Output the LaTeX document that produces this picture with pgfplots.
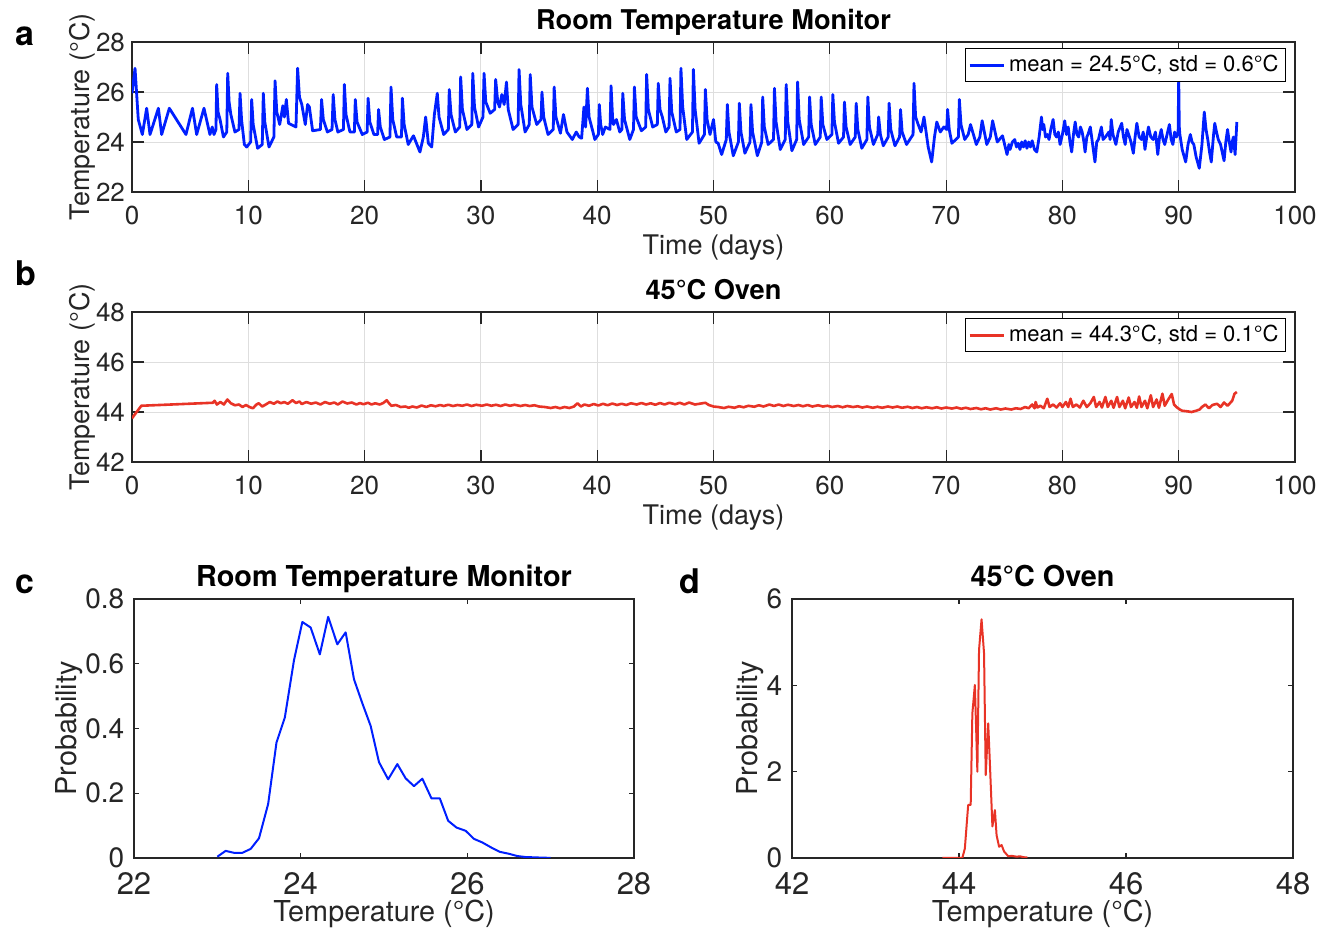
\documentclass[border=0pt]{standalone}
\usepackage{fontspec}
\setmainfont{TeX Gyre Heros}
\usepackage{pgfplots}
\usepackage{pgfplotstable}
\pgfplotsset{compat=1.18}
\definecolor{lineblue}{rgb}{0.0,0.12,1.0}
\definecolor{linered}{rgb}{0.91,0.2,0.15}
\definecolor{axgray}{rgb}{0.15,0.15,0.15}

\pgfplotstableread{
d T
0 25.95
0.26 26.95
0.54 24.9
0.89 24.3
1.26 25.35
1.55 24.3
2.27 25.35
2.55 24.3
3.21 25.35
4.64 24.3
5.2 25.35
5.56 24.3
6.19 25.35
6.7 24.3
6.9 24.6
7.05 24.3
7.22 24.5
7.28 26.3
7.4 25.2
7.57 24.9
7.86 24.2
8.15 24.4
8.23 26.75
8.35 25.6
8.5 25.1
8.85 24.4
9.2 24.5
9.29 25.95
9.42 24.9
9.66 23.9
9.86 23.8
10.2 24.0
10.29 25.7
10.42 24.7
10.8 23.75
11.2 23.9
11.29 25.95
11.42 24.8
11.78 23.8
12.2 24.2
12.3 26.45
12.45 25.2
12.7 24.7
12.97 25.45
13.1 25.0
13.27 25.7
13.46 24.75
14.1 24.6
14.24 26.95
14.4 25.8
14.6 25.5
14.9 24.7
15.1 25.5
15.25 25.4
15.53 24.45
16.2 24.5
16.3 25.7
16.45 24.9
16.8 24.4
17.2 24.5
17.3 25.9
17.45 24.9
17.7 24.4
18.18 24.5
18.26 26.3
18.4 25.1
18.74 24.4
19.12 24.4
19.2 25.7
19.35 24.8
19.8 24.3
20.22 24.4
20.3 25.75
20.45 24.8
20.8 24.3
21.12 24.3
21.2 25.3
21.35 24.6
21.7 24.1
22.18 24.2
22.27 26.2
22.42 24.9
22.76 24.2
23.17 24.2
23.25 25.75
23.4 24.7
23.75 23.9
24.2 24.25
24.76 23.6
25.05 24.2
25.25 25.0
25.48 23.95
25.77 23.8
26.0 25.1
26.25 25.95
26.4 25.0
26.8 24.3
27.2 24.5
27.28 26.1
27.43 25.1
27.8 24.4
28.18 24.6
28.26 26.6
28.41 25.3
28.8 24.5
29.22 24.7
29.3 26.75
29.45 25.4
29.8 24.6
30.18 25.0
30.27 26.75
30.42 25.6
30.8 25.15
31.18 25.3
31.27 26.5
31.45 25.6
31.6 25.4
31.8 25.9
32.0 25.5
32.2 26.4
32.35 25.3
32.77 24.5
33.2 24.7
33.28 26.9
33.43 25.5
33.8 24.4
34.16 24.7
34.24 26.7
34.39 25.4
34.8 24.7
35.17 24.9
35.25 26.0
35.4 25.0
35.77 24.3
36.22 24.5
36.3 26.2
36.45 25.0
36.84 24.35
37.1 25.1
37.4 24.4
37.86 24.1
38.2 24.4
38.45 24.2
38.66 24.15
38.86 25.4
39.0 24.6
39.16 26.15
39.3 25.0
39.58 24.5
39.8 24.1
40.1 24.3
40.18 25.5
40.3 24.7
40.47 24.3
40.7 24.6
41.1 24.5
41.19 26.25
41.32 25.0
41.4 24.7
41.65 24.9
41.94 24.4
42.12 24.5
42.2 25.95
42.35 24.9
42.8 24.1
43.12 24.5
43.2 26.2
43.35 25.0
43.8 24.45
44.17 24.6
44.25 26.7
44.4 25.3
44.77 24.6
45.17 24.7
45.25 26.35
45.4 25.3
45.6 25.0
45.9 24.4
46.18 24.6
46.26 26.55
46.41 25.2
46.8 24.4
47.12 24.5
47.2 26.95
47.35 25.4
47.7 24.1
48.19 24.4
48.27 26.9
48.42 25.3
48.76 23.95
49.22 24.3
49.3 26.1
49.45 24.9
49.7 24.3
50.0 24.9
50.2 24.0
50.4 23.95
50.7 23.5
51.1 24.1
51.19 25.5
51.33 24.4
51.7 23.45
52.14 24.0
52.22 25.55
52.36 24.4
52.7 23.55
53.14 24.0
53.22 25.5
53.36 24.4
53.77 23.45
54.15 24.0
54.23 25.8
54.37 24.6
54.7 23.9
55.16 24.1
55.24 26.15
55.38 24.8
55.74 23.7
56.17 24.1
56.25 26.3
56.39 24.8
56.74 23.65
57.15 24.1
57.23 26.4
57.37 24.9
57.75 23.9
58.18 24.2
58.26 25.8
58.4 24.7
58.75 23.9
59.18 24.2
59.26 25.8
59.4 24.7
59.75 24.1
60.18 24.3
60.26 25.9
60.4 24.8
60.75 23.95
61.18 24.2
61.26 25.6
61.4 24.6
61.75 23.9
62.19 24.2
62.27 25.55
62.41 24.5
62.75 23.75
63.19 24.1
63.27 25.8
63.41 24.6
63.75 23.9
64.12 24.3
64.2 25.0
64.35 24.3
64.6 23.85
65.02 24.2
65.1 25.55
65.24 24.5
65.6 23.85
66.0 24.2
66.08 25.3
66.22 24.4
66.6 23.9
67.16 24.3
67.24 26.35
67.38 25.0
67.6 24.7
67.85 24.4
68.1 25.0
68.46 23.8
68.76 23.2
69.0 24.2
69.2 24.8
69.5 24.4
69.8 24.6
70.05 24.5
70.13 25.3
70.27 24.5
70.5 23.95
71.06 24.2
71.14 25.7
71.28 24.7
71.6 24.1
71.9 24.3
72.1 24.7
72.6 23.9
72.9 24.2
73.1 24.85
73.5 23.9
73.8 24.2
74.0 24.85
74.4 24.0
74.85 24.25
75.24 23.5
75.4 23.9
75.5 23.7
75.7 24.0
75.9 24.1
76.05 23.8
76.2 23.95
76.35 23.7
76.5 24.0
76.65 23.8
76.8 24.05
76.95 23.75
77.1 24.0
77.25 23.8
77.4 24.05
77.6 23.7
77.8 23.6
78.0 24.2
78.2 25.0
78.3 24.5
78.4 24.7
78.55 24.2
78.7 24.3
78.85 24.1
79.0 24.5
79.2 24.9
79.35 24.3
79.5 24.2
79.65 24.4
79.8 23.9
80.0 24.3
80.2 24.85
80.35 24.3
80.5 24.6
80.65 24.0
80.8 23.6
80.95 24.3
81.1 24.8
81.25 24.3
81.4 24.2
81.55 24.6
81.7 24.4
81.85 24.0
81.95 23.6
82.1 24.2
82.2 24.3
82.4 24.6
82.6 23.9
82.8 23.2
82.95 24.0
83.1 24.1
83.35 24.6
83.5 24.1
83.7 24.2
84.0 24.4
84.1 24.1
84.2 24.9
84.35 24.3
84.6 23.9
84.8 24.4
85.1 24.75
85.25 24.2
85.4 23.9
85.55 24.5
85.7 24.3
85.9 24.0
86.1 23.55
86.25 24.2
86.4 24.75
86.6 24.2
86.8 24.1
86.95 24.4
87.1 23.7
87.25 24.2
87.4 24.6
87.6 24.2
87.8 24.1
88.0 24.4
88.2 23.5
88.35 24.2
88.5 24.5
88.65 24.1
88.8 23.9
89.0 24.3
89.2 24.7
89.35 24.1
89.5 23.9
89.65 24.4
89.8 24.2
89.95 24.4
90.0 26.6
90.05 24.6
90.1 24.3
90.3 23.7
90.6 23.2
90.8 23.9
91.0 24.3
91.15 24.0
91.3 23.9
91.5 23.4
91.77 22.95
92.0 23.9
92.2 25.2
92.35 24.5
92.5 24.1
92.65 23.6
92.8 23.2
93.0 24.3
93.1 24.75
93.25 24.4
93.4 24.1
93.6 23.9
93.9 23.25
94.05 24.0
94.2 24.5
94.35 24.0
94.5 23.6
94.6 24.0
94.7 24.2
94.85 23.5
95.0 24.8
}\roomdata

\pgfplotstableread{
d T
0 43.75
0.8 44.25
6.95 44.37
7.1 44.45
7.3 44.3
7.6 44.4
7.9 44.3
8.2 44.5
8.5 44.35
8.85 44.27
9.2 44.3
9.5 44.2
9.8 44.28
10.1 44.2
10.4 44.15
10.7 44.3
10.9 44.35
11.2 44.22
11.5 44.3
11.85 44.4
12.2 44.33
12.5 44.42
12.8 44.35
13.1 44.4
13.4 44.33
13.8 44.47
14.1 44.36
14.4 44.42
14.6 44.32
15.0 44.4
15.4 44.33
15.8 44.38
16.2 44.3
16.6 44.4
17.0 44.33
17.4 44.38
17.7 44.3
18.1 44.42
18.5 44.34
18.9 44.38
19.3 44.3
19.6 44.36
19.9 44.31
20.3 44.37
20.6 44.3
20.9 44.35
21.3 44.3
21.6 44.36
21.9 44.47
22.1 44.35
22.3 44.25
22.7 44.28
23.1 44.2
23.5 44.22
23.8 44.17
24.1 44.22
24.5 44.18
24.9 44.26
25.3 44.2
25.7 44.27
26.1 44.23
26.5 44.28
26.8 44.24
27.2 44.29
27.6 44.24
28.0 44.28
28.4 44.25
28.8 44.3
29.2 44.24
29.6 44.29
30.1 44.25
30.5 44.3
30.9 44.25
31.3 44.29
31.7 44.24
32.1 44.3
32.5 44.25
32.9 44.29
33.4 44.24
33.8 44.28
34.2 44.24
34.6 44.27
35.0 44.22
35.5 44.2
36.0 44.16
36.4 44.2
36.8 44.15
37.2 44.2
37.6 44.16
38.0 44.22
38.3 44.35
38.6 44.22
38.9 44.3
39.3 44.25
39.7 44.32
40.1 44.26
40.5 44.33
40.9 44.27
41.3 44.34
41.7 44.28
42.1 44.33
42.5 44.28
42.9 44.35
43.4 44.3
43.8 44.36
44.2 44.3
44.6 44.35
45.0 44.29
45.4 44.36
45.8 44.3
46.2 44.37
46.7 44.31
47.1 44.37
47.5 44.3
47.9 44.38
48.4 44.3
48.8 44.33
49.3 44.37
49.6 44.28
50.0 44.22
50.4 44.2
50.9 44.16
51.3 44.21
51.8 44.17
52.2 44.23
52.6 44.19
53.0 44.25
53.5 44.21
53.9 44.27
54.3 44.22
54.8 44.3
55.2 44.24
55.6 44.3
56.0 44.24
56.4 44.29
56.9 44.24
57.3 44.28
57.7 44.23
58.1 44.28
58.5 44.22
59.0 44.27
59.4 44.22
59.8 44.25
60.2 44.2
60.7 44.24
61.1 44.19
61.5 44.24
62.0 44.2
62.4 44.23
62.8 44.18
63.2 44.22
63.7 44.17
64.1 44.21
64.5 44.17
65.0 44.22
65.4 44.18
65.8 44.22
66.2 44.17
66.7 44.21
67.1 44.16
67.5 44.2
67.9 44.15
68.3 44.19
68.8 44.15
69.2 44.19
69.6 44.14
70.0 44.18
70.5 44.14
70.9 44.18
71.3 44.13
71.7 44.17
72.1 44.12
72.6 44.16
73.0 44.11
73.4 44.15
73.8 44.1
74.3 44.15
74.7 44.1
75.1 44.14
75.6 44.1
76.0 44.15
76.4 44.12
76.8 44.2
77.1 44.15
77.4 44.3
77.6 44.15
77.7 44.4
77.85 44.18
78.1 44.25
78.4 44.15
78.7 44.53
78.9 44.2
79.2 44.3
79.5 44.18
79.8 44.35
80.0 44.2
80.3 44.4
80.5 44.2
80.7 44.53
80.9 44.2
81.2 44.3
81.5 44.18
81.8 44.45
82.1 44.2
82.4 44.35
82.7 44.6
82.9 44.2
83.2 44.4
83.4 44.18
83.7 44.6
83.9 44.2
84.2 44.45
84.4 44.17
84.7 44.6
84.9 44.2
85.2 44.45
85.4 44.15
85.7 44.58
85.9 44.2
86.2 44.4
86.4 44.17
86.6 44.62
86.8 44.2
87.1 44.45
87.3 44.15
87.6 44.67
87.8 44.2
88.1 44.5
88.3 44.17
88.6 44.73
88.8 44.25
89.1 44.5
89.4 44.72
89.6 44.3
89.8 44.2
90.1 44.1
90.3 44.05
90.7 44.03
91.1 44.0
91.5 44.05
91.8 44.1
92.0 44.2
92.3 44.3
92.6 44.15
92.9 44.28
93.3 44.33
93.6 44.2
93.9 44.38
94.2 44.25
94.4 44.35
94.6 44.45
94.8 44.73
95.0 44.8
}\ovendata

\pgfplotstableread{
T p
23.0 0.004
23.1 0.022
23.2 0.016
23.3 0.016
23.4 0.028
23.5 0.061
23.61 0.167
23.71 0.357
23.81 0.434
23.92 0.611
24.02 0.729
24.12 0.712
24.23 0.629
24.33 0.745
24.44 0.660
24.54 0.697
24.64 0.552
24.74 0.478
24.84 0.408
24.94 0.296
25.05 0.243
25.16 0.290
25.26 0.246
25.36 0.222
25.46 0.245
25.57 0.184
25.67 0.184
25.77 0.115
25.87 0.094
25.98 0.084
26.08 0.059
26.18 0.048
26.29 0.032
26.39 0.019
26.50 0.013
26.60 0.006
26.70 0.003
26.81 0.002
26.91 0.001
27.0 0.0005
}\roomhist

\pgfplotstableread{
T p
43.80 0
44.04 0
44.07 0.22
44.11 1.23
44.14 1.23
44.16 3.35
44.19 4.01
44.22 2.0
44.24 4.82
44.27 5.53
44.30 4.74
44.32 1.92
44.35 3.12
44.37 2.19
44.40 0.73
44.43 1.11
44.45 0.53
44.48 0.26
44.51 0.30
44.54 0.15
44.59 0.04
44.63 0.05
44.69 0.03
44.73 0.04
44.77 0.02
44.82 0.01
}\ovenhist

\pgfplotsset{
  mat/.style={
    scale only axis,
    axis line style={axgray, line width=0.6pt},
    every tick/.style={axgray, line width=0.6pt},
    tick align=inside,
    xtick pos=both, ytick pos=both,
    /pgf/number format/assume math mode=true,
    tick label style={text=axgray},
    label style={text=axgray},
    every axis title shift=0pt,
    title style={at={(0.5,1)}, anchor=base, yshift=6.3pt},
  },
  timeax/.style={
    mat,
    width=581.5pt, height=75pt,
    xmin=0, xmax=100,
    xtick={0,10,20,30,40,50,60,70,80,90,100},
    xticklabels={0,10,20,30,40,50,60,70,80,90,100},
    major tick length=5.8pt,
    grid=major,
    major grid style={line width=0.5pt, color=black!13},
    tick label style={font=\fontsize{13}{15}\selectfont},
    xticklabel style={yshift=-3.5pt},
    label style={font=\fontsize{13.5}{16}\selectfont},
    title style={font=\bfseries\fontsize{13.6}{16}\selectfont},
    xlabel={Time (days)},
    ylabel={Temperature (°C)},
    xlabel style={yshift=2pt},
    ylabel style={yshift=-6.5pt},
    legend style={at={(1,1)}, anchor=north east, xshift=-4.5pt, yshift=-3pt,
      draw=black, line width=0.5pt, fill=white,
      font=\fontsize{11}{13}\selectfont, inner sep=1.5pt,
      nodes={inner sep=2pt}},
    legend cell align=left,
  },
  histax/.style={
    mat,
    width=250pt, height=129.5pt,
    major tick length=2.5pt,
    xticklabel style={font=\fontsize{15.5}{17}\selectfont, inner sep=0.5pt, yshift=-6.5pt},
    yticklabel style={font=\fontsize{14}{16}\selectfont, inner sep=0.5pt, xshift=-4.2pt},
    label style={font=\fontsize{14.4}{17}\selectfont, inner sep=0.5pt},
    xlabel={Temperature (°C)},
    ylabel={Probability},
    xlabel style={at={([yshift=-32pt]axis description cs:0.5,0)}, anchor=base},
    ylabel style={at={([xshift=-28.5pt]axis description cs:0,0.5)}, anchor=base},
    title style={font=\bfseries\fontsize{14.4}{17}\selectfont},
  },
}

\begin{document}
\begin{tikzpicture}
\useasboundingbox (0pt,0pt) rectangle (664.5pt,-466.5pt);

% panel a
\begin{axis}[timeax, at={(66pt,-21pt)}, anchor=north west,
  ymin=22, ymax=28, ytick={22,24,26,28}, yticklabels={22,24,26,28},
  title={Room Temperature Monitor}]
\addplot[lineblue, line width=1.4pt, line join=round] table[x=d, y=T] {\roomdata};
\addlegendentry{mean = 24.5°C, std = 0.6°C}
\end{axis}

% panel b
\begin{axis}[timeax, at={(66pt,-156pt)}, anchor=north west,
  ymin=42, ymax=48, ytick={42,44,46,48}, yticklabels={42,44,46,48},
  title={45°C Oven}]
\addplot[linered, line width=1.3pt, line join=round] table[x=d, y=T] {\ovendata};
\addlegendentry{mean = 44.3°C, std = 0.1°C}
\end{axis}

% panel c
\begin{axis}[histax, at={(67pt,-299.5pt)}, anchor=north west,
  xmin=22, xmax=28, xtick={22,24,26,28}, xticklabels={22,24,26,28},
  ymin=0, ymax=0.8, ytick={0,0.2,0.4,0.6,0.8}, yticklabels={0,0.2,0.4,0.6,0.8},
  title={Room Temperature Monitor}]
\addplot[lineblue, line width=1pt, line join=round] table[x=T, y=p] {\roomhist};
\end{axis}

% panel d
\begin{axis}[histax, at={(396pt,-299.5pt)}, anchor=north west, width=250.5pt,
  xmin=42, xmax=48, xtick={42,44,46,48}, xticklabels={42,44,46,48},
  ymin=0, ymax=6, ytick={0,2,4,6}, yticklabels={0,2,4,6},
  ylabel style={at={([xshift=-17.2pt]axis description cs:0,0.5)}, anchor=base},
  title={45°C Oven}]
\addplot[linered, line width=1pt, line join=round] table[x=T, y=p] {\ovenhist};
\end{axis}

\node[anchor=base west, font=\bfseries\fontsize{17}{19}\selectfont] at (4.3pt,-22.5pt) {a};
\node[anchor=base west, font=\bfseries\fontsize{17}{19}\selectfont] at (4.3pt,-142.5pt) {b};
\node[anchor=base west, font=\bfseries\fontsize{17}{19}\selectfont] at (4.3pt,-296.5pt) {c};
\node[anchor=base west, font=\bfseries\fontsize{17}{19}\selectfont] at (336pt,-296.5pt) {d};
\end{tikzpicture}
\end{document}
